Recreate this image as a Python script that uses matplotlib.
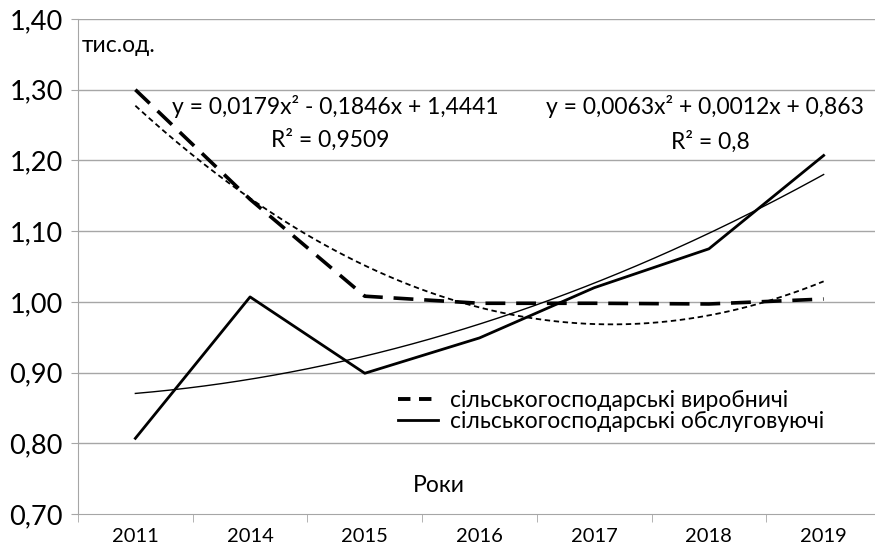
import matplotlib
matplotlib.use("Agg")
import matplotlib.pyplot as plt
import numpy as np
from matplotlib.lines import Line2D

plt.rcParams['font.family'] = ['Lato', 'DejaVu Sans']

years = ["2011", "2014", "2015", "2016", "2017", "2018", "2019"]
vyrobnychi = [1.30, 1.145, 1.008, 0.998, 0.998, 0.997, 1.004]
obsluhovuyuchi = [0.807, 1.007, 0.899, 0.949, 1.020, 1.075, 1.207]
trend_vyr_coef = [0.0179, -0.1846, 1.4441]
trend_obs_coef = [0.0063, 0.0012, 0.863]
eq_vyr = "y = 0,0179x\u00b2 - 0,1846x + 1,4441"
r2_vyr = "R\u00b2 = 0,9509"
eq_obs = "y = 0,0063x\u00b2 + 0,0012x + 0,863"
r2_obs = "R\u00b2 = 0,8"
yticks = [0.70, 0.80, 0.90, 1.00, 1.10, 1.20, 1.30, 1.40]
ytick_labels = ["0,70", "0,80", "0,90", "1,00", "1,10", "1,20", "1,30", "1,40"]
label_vyr = "сільськогосподарські виробничі"
label_obs = "сільськогосподарські обслуговуючі"

fig = plt.figure(figsize=(8.75, 5.54), dpi=100)
ax = fig.add_axes([78/875, 1-514/554, 803/875, (514-19)/554])

x = np.arange(len(years))
xs = np.linspace(0, len(years)-1, 200)
tv = np.polyval(trend_vyr_coef, xs + 1)
to = np.polyval(trend_obs_coef, xs + 1)

for yv in yticks[1:]:
    ax.axhline(yv, color='#a6a6a6', lw=1.0, zorder=0)

ax.plot(xs, tv, color='black', lw=1.3, ls=(0, (3, 2)), zorder=2)
ax.plot(xs, to, color='black', lw=1.0, zorder=2)
ax.plot(x, vyrobnychi, color='black', lw=2.6, ls=(0, (5.5, 3)), zorder=3)
ax.plot(x, obsluhovuyuchi, color='black', lw=2.0, zorder=3)

ax.set_xlim(-0.5, len(years)-0.5)
ax.set_ylim(0.70, 1.40)
ax.set_yticks(yticks)
ax.set_yticklabels(ytick_labels, fontsize=19.5)
ax.set_xticks(x)
ax.set_xticklabels(years, fontsize=14.5)
ax.set_xticks(np.arange(-0.5, len(years)), minor=True)
ax.tick_params(axis='x', which='major', length=0, pad=10)
ax.tick_params(axis='x', which='minor', length=6, color='#a6a6a6')
ax.tick_params(axis='y', length=5, color='#a6a6a6', pad=6)
for s in ['top', 'right']:
    ax.spines[s].set_visible(False)
ax.spines['left'].set_color('#a6a6a6')
ax.spines['bottom'].set_color('#a6a6a6')

ax.text(82/875, 1-45/554, "тис.од.", transform=fig.transFigure, fontsize=16.5,
        ha='left', va='center')
ax.text(172/875, 1-107/554, eq_vyr, transform=fig.transFigure, fontsize=16.5,
        ha='left', va='center')
ax.text(330/875, 1-140/554, r2_vyr, transform=fig.transFigure, fontsize=16.5,
        ha='center', va='center')
ax.text(705/875, 1-107/554, eq_obs, transform=fig.transFigure, fontsize=16.5,
        ha='center', va='center')
ax.text(710/875, 1-142/554, r2_obs, transform=fig.transFigure, fontsize=16.5,
        ha='center', va='center')
ax.text(439/875, 1-485/554, "Роки", transform=fig.transFigure, fontsize=16.5,
        ha='center', va='center')

handles = [Line2D([], [], color='black', lw=2.8, ls=(0, (3.2, 2.2))),
           Line2D([], [], color='black', lw=2.0)]
leg = ax.legend(handles, [label_vyr, label_obs], loc='upper left',
                bbox_to_anchor=(382/875, 1-374/554), bbox_transform=fig.transFigure,
                frameon=True, fontsize=16.5, handlelength=1.75, handletextpad=0.5,
                labelspacing=0.0, borderpad=0.2, fancybox=False, edgecolor='white',
                framealpha=1.0)

fig.savefig("out.png", dpi=100)
